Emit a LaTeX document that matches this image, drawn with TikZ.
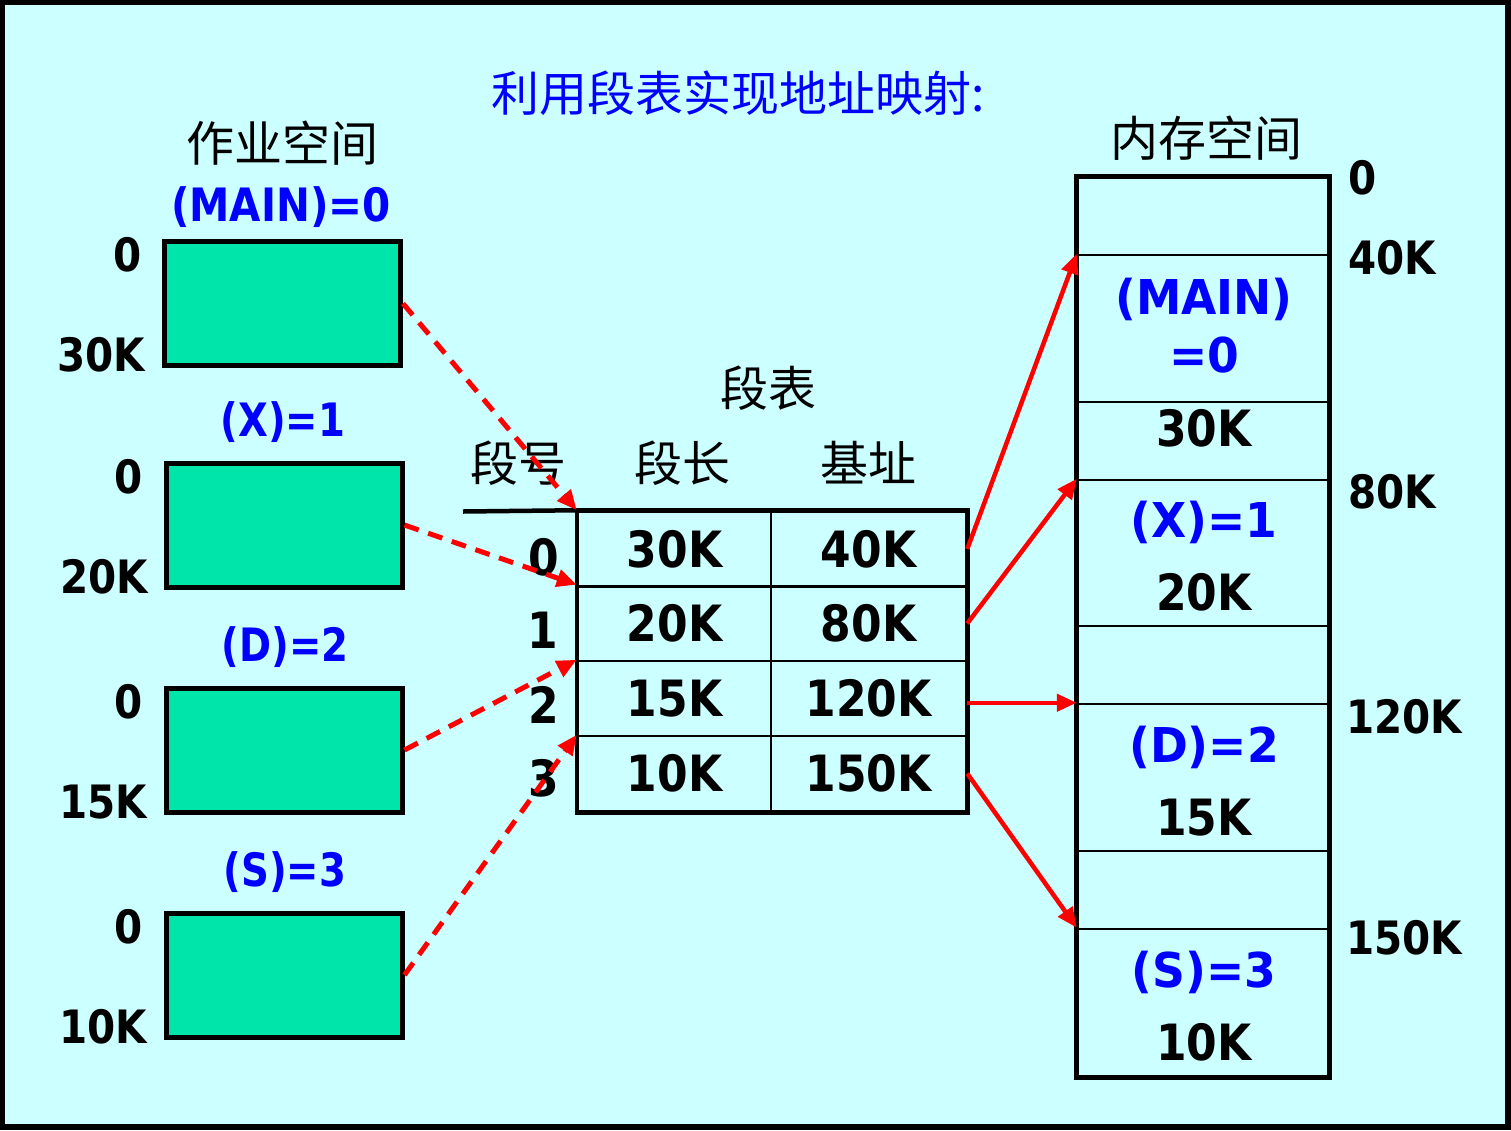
\documentclass[tikz,border=0pt]{standalone}
\usepackage{fontspec}
\usepackage{graphicx}
\setmainfont{DejaVu Sans}
\newfontfamily\cjk{Noto Sans CJK SC}
\usetikzlibrary{arrows.meta}
\definecolor{bgc}{HTML}{CCFFFF}
\definecolor{boxg}{HTML}{00E6AA}
\definecolor{tblue}{HTML}{0000FF}
\definecolor{tred}{HTML}{FF0000}
\newcommand{\sq}[1]{\scalebox{0.88}[1]{#1}}
\newcommand{\sqb}[1]{\scalebox{0.84}[1]{#1}}
\newcommand{\sqw}[1]{\scalebox{0.95}[1]{#1}}
\begin{document}
\begin{tikzpicture}[x=1pt,y=-1pt,
  num/.style={inner sep=0pt, font=\fontsize{46}{50}\selectfont\bfseries, text height=33.5pt, text depth=0pt},
  bignum/.style={inner sep=0pt, font=\fontsize{50}{55}\selectfont\bfseries, text height=36.5pt, text depth=0pt},
  bluelab/.style={num, text=tblue},
  memblue/.style={inner sep=0pt, font=\fontsize{48}{52}\selectfont\bfseries, text height=35pt, text depth=0pt, text=tblue},
  cjktext/.style={inner sep=0pt, font=\fontsize{48}{52}\selectfont\cjk, text height=39.8pt, text depth=3.4pt},
  jobbox/.style={draw=black, line width=5pt, fill=boxg, minimum width=236pt, minimum height=124pt, inner sep=0pt},
  cellA/.style={draw=black, line width=2.5pt, inner sep=0pt, minimum width=193pt, minimum height=75pt},
  cellB/.style={draw=black, line width=2.5pt, inner sep=0pt, minimum width=195pt, minimum height=75pt},
  seg/.style={draw=black, line width=2.5pt, inner sep=0pt, minimum width=250pt},
  dasharrow/.style={draw=tred, line width=5pt, dash pattern=on 15pt off 10pt, -{Triangle[length=20pt,width=17pt]}},
  solidarrow/.style={draw=tred, line width=4.5pt, -{Triangle[length=20pt,width=17pt]}}
]
% background and frame
\fill[black] (0,0) rectangle (1511,1130);
\fill[bgc] (5,5) rectangle (1505,1124);
\useasboundingbox (0,0) rectangle (1511,1130);

% title
\node[cjktext, text=tblue] (title) at (738,93) {利用段表实现地址映射:};

% job space
\node[cjktext] (jobspace) at (282,143) {作业空间};
\node[bluelab] (l0) at (281,205) {\sq{(MAIN)=0}};
\node[jobbox] (b0) at (282.5,303.5) {};
\node[num, anchor=east] (b0s) at (142,255) {\sq{0}};
\node[num, anchor=east] (b0e) at (145,355) {\sq{30K}};

\node[bluelab] (l1) at (283,420) {\sqb{(X)=1}};
\node[jobbox] (b1) at (284,525) {};
\node[num, anchor=east] (b1s) at (143,477) {\sq{0}};
\node[num, anchor=east] (b1e) at (148,577) {\sq{20K}};

\node[bluelab] (l2) at (285,645) {\sqb{(D)=2}};
\node[jobbox] (b2) at (284,750) {};
\node[num, anchor=east] (b2s) at (143,702) {\sq{0}};
\node[num, anchor=east] (b2e) at (147,802) {\sq{15K}};

\node[bluelab] (l3) at (285,870) {\sqb{(S)=3}};
\node[jobbox] (b3) at (284,975) {};
\node[num, anchor=east] (b3s) at (143,927) {\sq{0}};
\node[num, anchor=east] (b3e) at (147,1027) {\sq{10K}};

% segment table
\node[cjktext] (segtab) at (768,388) {段表};
\node[cjktext] (h0) at (518,463) {段号};
\node[cjktext] (h1) at (682,463) {段长};
\node[cjktext] (h2) at (868,463) {基址};

\node[cellA, bignum] (c00) at (674.5,549) {\sq{30K}};
\node[cellB, bignum] (c01) at (868.5,549) {\sq{40K}};
\node[cellA, bignum] (c10) at (674.5,623.5) {\sq{20K}};
\node[cellB, bignum] (c11) at (868.5,623.5) {\sq{80K}};
\node[cellA, bignum] (c20) at (674.5,698.5) {\sq{15K}};
\node[cellB, bignum] (c21) at (868.5,698.5) {\sq{120K}};
\node[cellA, bignum] (c30) at (674.5,773.5) {\sq{10K}};
\node[cellB, bignum] (c31) at (868.5,773.5) {\sq{150K}};
\draw[line width=4.5pt] (c00.north west) rectangle (c31.south east);
\coordinate (hl) at (463,511.5);
\draw[line width=4.5pt] (hl) -- (c00.north west);

\node[bignum] (n0) at (544,557) {\sq{0}};
\node[bignum] (n1) at (543,630) {\sq{1}};
\node[bignum] (n2) at (544,705) {\sq{2}};
\node[bignum] (n3) at (544,778) {\sq{3}};

% memory space
\node[cjktext] (memspace) at (1206,138) {内存空间};
\node[seg, minimum height=77pt] (m0) at (1203,216.5) {};
\node[seg, minimum height=147pt] (m1) at (1203,328.5) {};
\node[seg, minimum height=78pt] (m2) at (1203,441) {};
\node[seg, minimum height=146pt] (m3) at (1203,553) {};
\node[seg, minimum height=78pt] (m4) at (1203,665) {};
\node[seg, minimum height=147pt] (m5) at (1203,777.5) {};
\node[seg, minimum height=78pt] (m6) at (1203,890) {};
\node[seg, minimum height=147pt] (m7) at (1203,1002.5) {};
\draw[line width=5pt] (m0.north west) rectangle (m7.south east);

\node[memblue] (t1a) at (1204,297) {\sqw{(MAIN)}};
\node[memblue] (t1b) at (1204,355) {\sqw{=0}};
\node[bignum] (t2) at (1204,428) {\sq{30K}};
\node[memblue] (t3a) at (1204,520) {\sqw{(X)=1}};
\node[bignum] (t3b) at (1204,592) {\sq{20K}};
\node[memblue] (t5a) at (1204,745) {\sqw{(D)=2}};
\node[bignum] (t5b) at (1204,817) {\sq{15K}};
\node[memblue] (t7a) at (1204,970) {\sqw{(S)=3}};
\node[bignum] (t7b) at (1204,1042) {\sq{10K}};

\node[num, anchor=west] (a0) at (1348,178) {\sq{0}};
\node[num, anchor=west] (a40) at (1348,258) {\sq{40K}};
\node[num, anchor=west] (a80) at (1348,492) {\sq{80K}};
\node[num, anchor=west] (a120) at (1346,717) {\sq{120K}};
\node[num, anchor=west] (a150) at (1346,938) {\sq{150K}};

% connectors: job space -> segment table
\draw[dasharrow] (b0.east) -- (c00.north west);
\draw[dasharrow] (b1.east) -- (c10.north west);
\draw[dasharrow] (b2.east) -- (c20.north west);
\draw[dasharrow] (b3.east) -- (c30.north west);

% connectors: segment table -> memory
\draw[solidarrow] (c01.east) -- (m1.north west);
\draw[solidarrow] (c11.east) -- (m3.north west);
\draw[solidarrow] (c21.east |- m5.north west) -- (m5.north west);
\draw[solidarrow] (c31.east) -- (m7.north west);
\end{tikzpicture}
\end{document}
